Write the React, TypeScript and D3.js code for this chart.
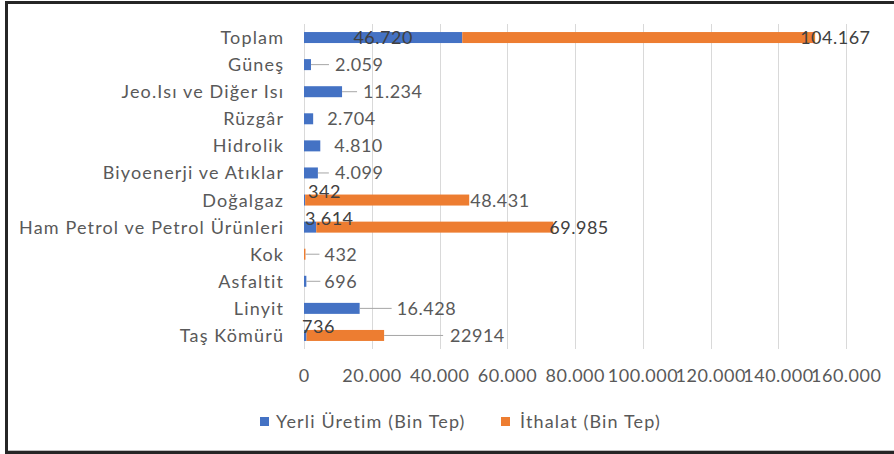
import React from "react";
import * as d3 from "d3";

const categories = [
  "Toplam",
  "Güneş",
  "Jeo.Isı ve Diğer Isı",
  "Rüzgâr",
  "Hidrolik",
  "Biyoenerji ve Atıklar",
  "Doğalgaz",
  "Ham Petrol ve Petrol Ürünleri",
  "Kok",
  "Asfaltit",
  "Linyit",
  "Taş Kömürü",
];
const yerli = [46720, 2059, 11234, 2704, 4810, 4099, 342, 3614, 0, 696, 16428, 736];
const ithalat = [104167, 0, 0, 0, 0, 0, 48431, 69985, 432, 0, 0, 22914];
const yerliLabels = ["46.720", "2.059", "11.234", "2.704", "4.810", "4.099", "342", "3.614", "", "696", "16.428", "736"];
const ithalatLabels = ["104.167", "", "", "", "", "", "48.431", "69.985", "432", "", "", "22914"];
const xTicks = [0, 20000, 40000, 60000, 80000, 100000, 120000, 140000, 160000];
const xTickLabels = ["0", "20.000", "40.000", "60.000", "80.000", "100.000", "120.000", "140.000", "160.000"];
const seriesNames = ["Yerli Üretim (Bin Tep)", "İthalat (Bin Tep)"];

// label placement (px): mode, leader length, text offset from bar end
type Place = { mode: "center" | "above" | "end"; leader: number; dx: number };
const yerliPlace: Place[] = [
  { mode: "center", leader: 0, dx: 0 },
  { mode: "end", leader: 18, dx: 24 },
  { mode: "end", leader: 15, dx: 21 },
  { mode: "end", leader: 0, dx: 14 },
  { mode: "end", leader: 0, dx: 14 },
  { mode: "end", leader: 11, dx: 17 },
  { mode: "above", leader: 0, dx: 4 },
  { mode: "above", leader: 0, dx: 1 },
  { mode: "end", leader: 0, dx: 0 },
  { mode: "end", leader: 14, dx: 18 },
  { mode: "end", leader: 32, dx: 37 },
  { mode: "above", leader: 0, dx: -2 },
];
const ithalatPlace: Place[] = [
  { mode: "end", leader: 0, dx: -15 },
  { mode: "end", leader: 0, dx: 0 },
  { mode: "end", leader: 0, dx: 0 },
  { mode: "end", leader: 0, dx: 0 },
  { mode: "end", leader: 0, dx: 0 },
  { mode: "end", leader: 0, dx: 0 },
  { mode: "end", leader: 0, dx: 1 },
  { mode: "end", leader: 0, dx: -4 },
  { mode: "end", leader: 14, dx: 19 },
  { mode: "end", leader: 0, dx: 0 },
  { mode: "end", leader: 0, dx: 0 },
  { mode: "end", leader: 59, dx: 66 },
];

const W = 894;
const H = 454;
const BLUE = "#4472C4";
const ORANGE = "#ED7D31";
const TEXT = "#595959";
const FONT = "Lato, 'Open Sans', sans-serif";
const FS = 18;
const LS_TEXT = 1.15;
const LS_NUM = 0.5;

export default function App() {
  const x = d3.scaleLinear().domain([0, 160000]).range([304, 846]);
  const y = d3.scaleBand<string>().domain(categories).range([24, 349]).paddingInner(0).paddingOuter(0);
  const bh = 11;
  const cy = (c: string) => (y(c) as number) + y.bandwidth() / 2;

  return (
    <svg width={W} height={H} style={{ position: "absolute", left: 0, top: 0, background: "#fff" }} fontFamily={FONT}>
      <rect x={0} y={0} width={W} height={H} fill="#fff" />
      {/* frame */}
      <path d={`M6.5,456 L6.5,2.5 L900,2.5`} fill="none" stroke="#262626" strokeWidth={3} />
      <line x1={5} x2={900} y1={452.5} y2={452.5} stroke="#262626" strokeWidth={3} />
      <line x1={8} x2={900} y1={450.5} y2={450.5} stroke="#bfbfbf" strokeWidth={1} />
      {/* gridlines */}
      {xTicks.map((t) => (
        <line key={t} x1={Math.round(x(t)) + 0.5} x2={Math.round(x(t)) + 0.5} y1={24} y2={349} stroke="#d9d9d9" strokeWidth={1} />
      ))}
      {/* bars */}
      {categories.map((c, i) => (
        <g key={c}>
          {yerli[i] > 0 && (
            <rect x={x(0)} y={cy(c) - bh / 2} width={x(yerli[i]) - x(0)} height={bh} fill={BLUE} />
          )}
          {ithalat[i] > 0 && (
            <rect x={x(yerli[i])} y={cy(c) - bh / 2} width={x(yerli[i] + ithalat[i]) - x(yerli[i])} height={bh} fill={ORANGE} />
          )}
        </g>
      ))}
      {/* leader lines */}
      {categories.map((c, i) => {
        const out: React.ReactNode[] = [];
        const py = yerliPlace[i];
        if (yerliLabels[i] && py.leader > 0) {
          const e = x(yerli[i]);
          out.push(<line key={"y" + c} x1={e} x2={e + py.leader} y1={cy(c)} y2={cy(c)} stroke="#a6a6a6" strokeWidth={1} />);
        }
        const pi = ithalatPlace[i];
        if (ithalatLabels[i] && pi.leader > 0) {
          const e = x(yerli[i] + ithalat[i]);
          out.push(<line key={"i" + c} x1={e} x2={e + pi.leader} y1={cy(c)} y2={cy(c)} stroke="#a6a6a6" strokeWidth={1} />);
        }
        return out;
      })}
      {/* data labels */}
      {categories.map((c, i) => {
        const out: React.ReactNode[] = [];
        const py = yerliPlace[i];
        if (yerliLabels[i]) {
          if (py.mode === "center") {
            out.push(
              <text key={"y" + c} x={(x(0) + x(yerli[i])) / 2} y={cy(c)} dy="0.36em" textAnchor="middle" fontSize={FS} fill="#404040" letterSpacing={LS_NUM}>
                {yerliLabels[i]}
              </text>
            );
          } else if (py.mode === "above") {
            out.push(
              <text key={"y" + c} x={x(0) + py.dx} y={cy(c) - 9} dy="0.36em" fontSize={FS} fill="#404040" letterSpacing={LS_NUM}>
                {yerliLabels[i]}
              </text>
            );
          } else {
            out.push(
              <text key={"y" + c} x={x(yerli[i]) + py.dx} y={cy(c)} dy="0.36em" fontSize={FS} fill={TEXT} letterSpacing={LS_NUM}>
                {yerliLabels[i]}
              </text>
            );
          }
        }
        const pi = ithalatPlace[i];
        if (ithalatLabels[i]) {
          out.push(
            <text key={"i" + c} x={x(yerli[i] + ithalat[i]) + pi.dx} y={cy(c)} dy="0.36em" fontSize={FS} fill={pi.dx < 0 ? "#404040" : TEXT} letterSpacing={LS_NUM}>
              {ithalatLabels[i]}
            </text>
          );
        }
        return out;
      })}
      {/* category labels */}
      {categories.map((c) => (
        <text key={c} x={283 + LS_TEXT} y={cy(c)} dy="0.36em" textAnchor="end" fontSize={FS} fill={TEXT} letterSpacing={LS_TEXT}>
          {c}
        </text>
      ))}
      {/* tick labels */}
      {xTicks.map((t, i) => (
        <text key={t} x={x(t) + LS_NUM / 2} y={376} dy="0.36em" textAnchor="middle" fontSize={FS} fill={TEXT} letterSpacing={LS_NUM}>
          {xTickLabels[i]}
        </text>
      ))}
      {/* legend */}
      <rect x={260} y={417} width={9} height={9} fill={BLUE} />
      <text x={276} y={421.5} dy="0.36em" fontSize={FS} fill={TEXT} letterSpacing={LS_TEXT}>{seriesNames[0]}</text>
      <rect x={501} y={417} width={9} height={9} fill={ORANGE} />
      <text x={520} y={421.5} dy="0.36em" fontSize={FS} fill={TEXT} letterSpacing={LS_TEXT}>{seriesNames[1]}</text>
    </svg>
  );
}
